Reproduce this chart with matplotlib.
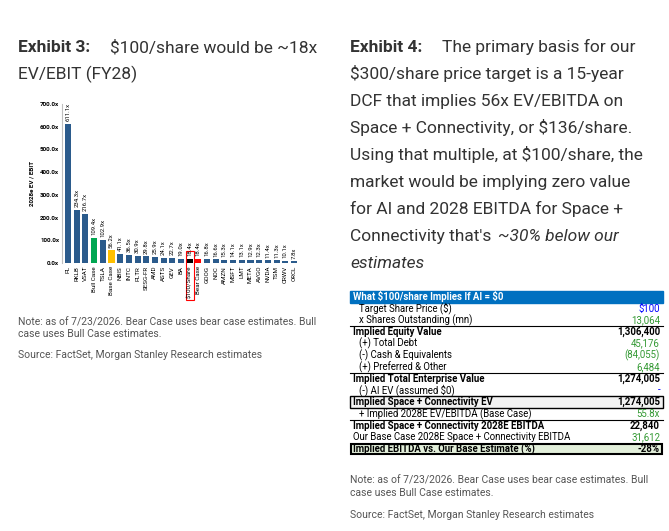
import matplotlib.pyplot as plt
from matplotlib.patches import Rectangle

tickers = ["PL", "RKLB", "VSAT", "Bull Case", "TSLA", "Base Case", "NBIS", "INTC", "PLTR",
           "SESG-FR", "AMD", "ASTS", "GEV", "BA", "$100/Share", "Bear Case", "GOOG", "NOC",
           "AMZN", "MSFT", "LMT", "META", "AVGO", "NVDA", "TSM", "CRWV", "ORCL"]
multiples = [611.1, 234.3, 216.7, 109.4, 102.9, 56.2, 41.1, 36.5, 30.9, 29.8, 25.9, 24.1,
             22.7, 19.0, 18.4, 18.4, 16.8, 16.6, 15.3, 14.1, 13.1, 12.9, 12.3, 11.4, 11.3,
             10.1, 7.8]
special = {"Bull Case": "#00a651", "Base Case": "#ffc000", "$100/Share": "#000000",
           "Bear Case": "#ff0000"}

rows = [
    ("Target Share Price ($)", "$100", "sub", "#0000ff"),
    ("x Shares Outstanding (mn)", "13,064", "sub", "#339933"),
    ("Implied Equity Value", "1,306,400", "bold", "black"),
    ("(+) Total Debt", "45,176", "sub", "#339933"),
    ("(-) Cash & Equivalents", "(84,055)", "sub", "#339933"),
    ("(+) Preferred & Other", "6,484", "sub", "#339933"),
    ("Implied Total Enterprise Value", "1,274,005", "bold", "black"),
    ("(-) AI EV (assumed $0)", "-", "sub", "#0000ff"),
    ("Implied Space + Connectivity EV", "1,274,005", "boldbox", "black"),
    ("+ Implied 2028E EV/EBITDA (Base Case)", "55.8x", "sub", "#339933"),
    ("Implied Space + Connectivity 2028E EBITDA", "22,840", "bold", "black"),
    ("Our Base Case 2028E Space + Connectivity EBITDA", "31,612", "plain", "#339933"),
    ("Implied EBITDA vs. Our Base Estimate (%)", "-28%", "final", "black"),
]

plt.rcParams["text.parse_math"] = False
plt.rcParams["font.family"] = ["Roboto", "DejaVu Sans"]

W, H = 669, 531
fig = plt.figure(figsize=(6.69, 5.31), dpi=100)


def fx(px):
    return px / W


def fy(py):
    return 1 - py / H


grey = "#333333"
note = "#555555"
TS = 12.5
NS = 7.5
# left title
fig.text(fx(18), fy(52), "Exhibit 3:", fontsize=TS, weight="bold", color=grey, va="baseline")
fig.text(fx(110), fy(52), "$100/share would be ~18x", fontsize=TS, color=grey, va="baseline")
fig.text(fx(18), fy(79), "EV/EBIT (FY28)", fontsize=TS, color=grey, va="baseline")

ax = fig.add_axes([fx(62), fy(263), fx(300 - 62), (263 - 104) / H])
colors = [special.get(t, "#2b5b8c") for t in tickers]
x = range(len(tickers))
ax.bar(x, multiples, color=colors, width=0.7)
for i, v in enumerate(multiples):
    ax.text(i, v + 12, f"{v:.1f}x", rotation=90, ha="center", va="bottom", fontsize=4.3)
ax.set_xticks(list(x))
ax.set_xticklabels(tickers, rotation=90, fontsize=4.5)
ax.set_ylim(0, 700)
ax.set_xlim(-0.7, len(tickers) - 0.3)
ax.set_yticks(range(0, 701, 100))
ax.set_yticklabels([f"{v:.1f}x" for v in range(0, 701, 100)], fontsize=4.5, weight="bold")
ax.set_ylabel("2028e EV / EBIT", fontsize=4.5, weight="bold")
ax.tick_params(length=0, pad=2)
for s in ["top", "right", "bottom"]:
    ax.spines[s].set_visible(False)
ax.spines["left"].set_color("#bfbfbf")
ax.add_patch(Rectangle((13.55, -165), 0.9, 220, fill=False, edgecolor="red", lw=0.8,
                       clip_on=False))

fig.text(fx(18), fy(317), "Note: as of 7/23/2026. Bear Case uses bear case estimates. Bull\ncase uses Bull Case estimates.",
         fontsize=NS, color=note, va="top", linespacing=1.25)
fig.text(fx(18), fy(350), "Source: FactSet, Morgan Stanley Research estimates", fontsize=NS,
         color=note, va="top")

# right title paragraph
fig.text(fx(350), fy(52), "Exhibit 4:", fontsize=TS, weight="bold", color=grey, va="baseline")
right_lines = ["The primary basis for our", "$300/share price target is a 15-year",
               "DCF that implies 56x EV/EBITDA on", "Space + Connectivity, or $136/share.",
               "Using that multiple, at $100/share, the", "market would be implying zero value",
               "for AI and 2028 EBITDA for Space +", "Connectivity that's "]
last = None
for i, line in enumerate(right_lines):
    xx = 442 if i == 0 else 350
    last = fig.text(fx(xx), fy(52 + i * 27), line, fontsize=TS, color=grey, va="baseline")
fig.canvas.draw()
bb = last.get_window_extent()
fig.text(bb.x1 / W + 0.004, fy(52 + 7 * 27), "~30% below our", fontsize=TS, color=grey,
         style="italic", va="baseline")
fig.text(fx(350), fy(52 + 8 * 27), "estimates", fontsize=TS, color=grey, style="italic",
         va="baseline")

# table
tl, tr, top, rh = 350, 663, 291, 11.7
FS = 6.9
tab = fig.add_axes([0, 0, 1, 1])
tab.set_xlim(0, W)
tab.set_ylim(H, 0)
tab.axis("off")
tab.add_patch(Rectangle((tl, top), tr - tl, rh, color="#0070c0"))
tab.text(tl + 3, top + rh / 2, "What $100/share Implies If AI = $0", color="white", fontsize=FS,
         weight="bold", va="center")
for i, (lab, val, kind, col) in enumerate(rows):
    y0 = top + rh * (i + 1)
    yc = y0 + rh / 2
    bold = kind in ("bold", "boldbox", "final")
    if kind == "boldbox":
        tab.add_patch(Rectangle((tl, y0), tr - tl, rh, facecolor="#f2f2f2", edgecolor="black", lw=1))
    if kind == "final":
        tab.add_patch(Rectangle((tl + 1, y0 + 0.5), tr - tl - 2, rh - 1, facecolor="#e2efda",
                                edgecolor="black", lw=1.5))
    if kind == "bold":
        tab.plot([tl, tr], [y0, y0], color="black", lw=0.8)
    indent = 9 if kind == "sub" else 3
    tab.text(tl + indent, yc, lab, fontsize=FS, weight="bold" if bold else "normal",
             va="center", color="black")
    tab.text(tr - 3, yc, val, fontsize=FS, weight="bold" if bold else "normal",
             va="center", ha="right", color=col)

fig.text(fx(350), fy(476), "Note: as of 7/23/2026. Bear Case uses bear case estimates. Bull\ncase uses Bull Case estimates.",
         fontsize=NS, color=note, va="top", linespacing=1.25)
fig.text(fx(350), fy(510), "Source: FactSet, Morgan Stanley Research estimates", fontsize=NS,
         color=note, va="top")

fig.savefig("out.png", dpi=100)
